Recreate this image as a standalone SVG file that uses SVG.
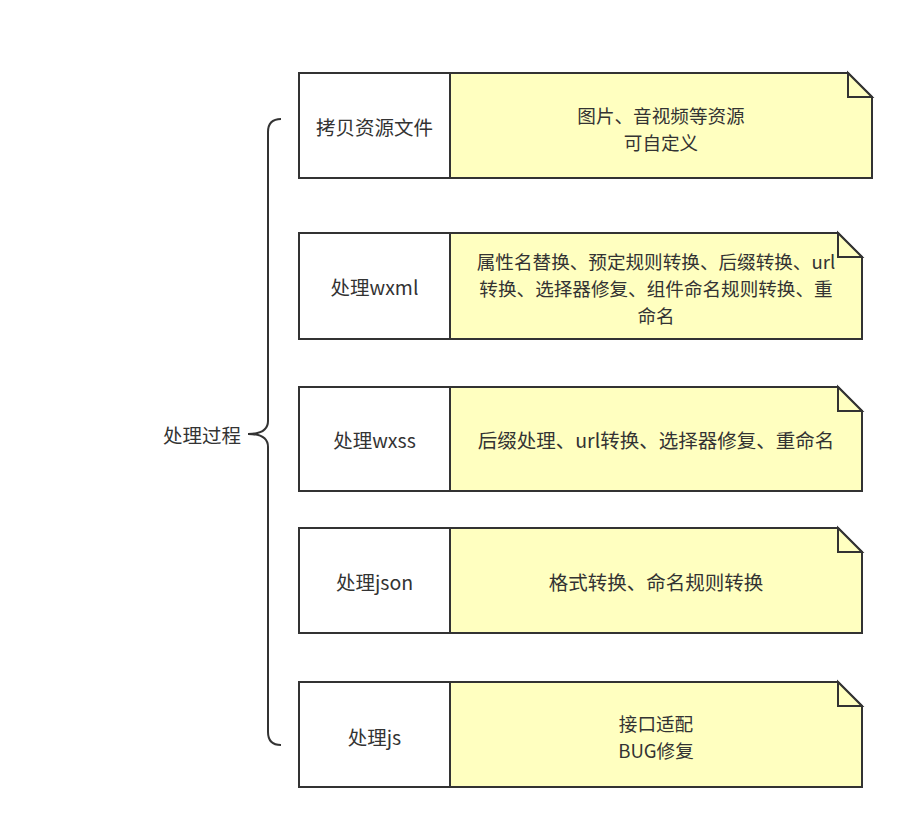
<svg xmlns="http://www.w3.org/2000/svg" width="920" height="836" viewBox="0 0 920 836">
<style>
  .lbl { fill: #ffffff; stroke: #333333; stroke-width: 2; }
  .note { fill: #ffffc0; stroke: #333333; stroke-width: 2; stroke-linejoin: miter; }
  .fold { fill: #ffffc0; stroke: #333333; stroke-width: 2; }
  text { font-family: "Noto Sans CJK SC", "Microsoft YaHei", sans-serif; font-size: 19.5px; fill: #333333; text-anchor: middle; dominant-baseline: central; }
  text.ml { font-size: 18.6px; }
  .brace { fill: none; stroke: #333333; stroke-width: 2; }
</style>
<rect width="920" height="836" fill="#ffffff"/>
<g id="connectors">
  <path class="brace" d="M281,119 Q268,119 268,132 V421 Q268,434 248,434 Q268,434 268,447 V732 Q268,745 281,745"/>
</g>
<g id="root">
  <text x="241" y="434" style="text-anchor:end">处理过程</text>
</g>
<g id="node1">
  <rect class="lbl" x="299" y="73" width="151" height="105"/>
  <path class="note" d="M450,73 H848 L872,97 V178 H450 Z"/>
  <text x="374.5" y="126">拷贝资源文件</text>
  <text class="ml" x="661" y="113.5"><tspan x="661" y="113.5">图片、音视频等资源</tspan><tspan x="661" y="140.5">可自定义</tspan></text>
  <path class="fold" d="M848,73 V97 H872 Z"/>
</g>
<g id="node2">
  <rect class="lbl" x="299" y="233" width="151" height="106"/>
  <path class="note" d="M450,233 H838 L862,257 V339 H450 Z"/>
  <text x="374.5" y="286">处理wxml</text>
  <text class="ml" x="656" y="260"><tspan x="656" y="260">属性名替换、预定规则转换、后缀转换、url</tspan><tspan x="656" y="287">转换、选择器修复、组件命名规则转换、重</tspan><tspan x="656" y="314">命名</tspan></text>
  <path class="fold" d="M838,233 V257 H862 Z"/>
</g>
<g id="node3">
  <rect class="lbl" x="299" y="387" width="151" height="104"/>
  <path class="note" d="M450,387 H838 L862,411 V491 H450 Z"/>
  <text x="374.5" y="439">处理wxss</text>
  <text x="656" y="439">后缀处理、url转换、选择器修复、重命名</text>
  <path class="fold" d="M838,387 V411 H862 Z"/>
</g>
<g id="node4">
  <rect class="lbl" x="299" y="528" width="151" height="105"/>
  <path class="note" d="M450,528 H838 L862,552 V633 H450 Z"/>
  <text x="374.5" y="581">处理json</text>
  <text x="656" y="581">格式转换、命名规则转换</text>
  <path class="fold" d="M838,528 V552 H862 Z"/>
</g>
<g id="node5">
  <rect class="lbl" x="299" y="682" width="151" height="105"/>
  <path class="note" d="M450,682 H838 L862,706 V787 H450 Z"/>
  <text x="374.5" y="736">处理js</text>
  <text class="ml" x="656" y="721.5"><tspan x="656" y="721.5">接口适配</tspan><tspan x="656" y="748.5">BUG修复</tspan></text>
  <path class="fold" d="M838,682 V706 H862 Z"/>
</g>
</svg>
